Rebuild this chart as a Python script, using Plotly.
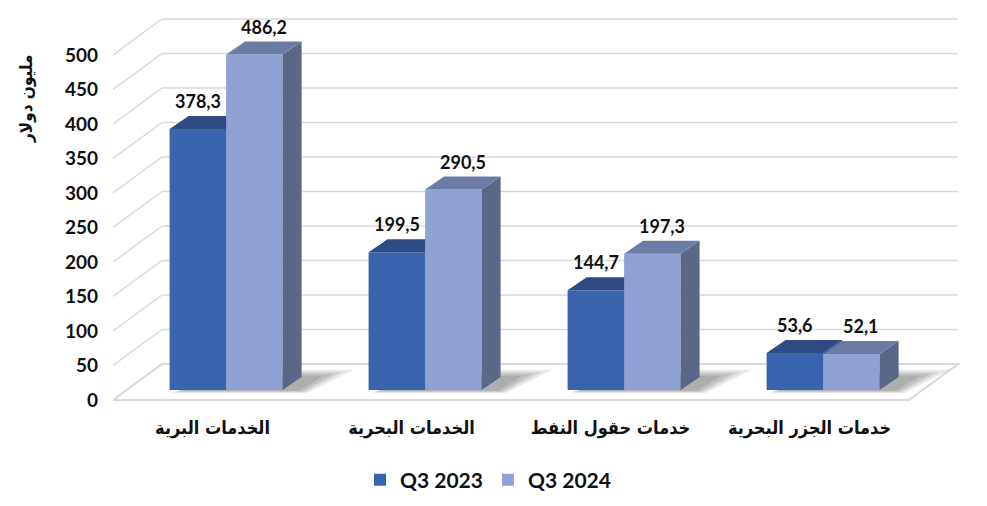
import plotly.graph_objects as go

# ---------------- data ----------------
categories = ["الخدمات البرية", "الخدمات البحرية", "خدمات حقول النفط", "خدمات الجزر البحرية"]
series_names = ["Q3 2023", "Q3 2024"]
q3_2023 = [378.3, 199.5, 144.7, 53.6]
q3_2024 = [486.2, 290.5, 197.3, 52.1]
y_ticks = [0, 50, 100, 150, 200, 250, 300, 350, 400, 450, 500]
y_title = "مليون دولار"


def fmt(v):
    return f"{v:.1f}".replace(".", ",")


# ---------------- geometry / style ----------------
W_FIG, H_FIG = 987, 506
M_L, M_R, M_T, M_B = 113, 20, 10, 96
PX_X = 199.0    # pixels per category step
X0_PX = 212.5   # pixel of first category centre (front plane of the wall)
PX_Y = 0.69     # pixels per value unit
Y0_PX = 400.0   # pixel of value 0 (front plane of the wall)

x_range = [(M_L - X0_PX) / PX_X, (W_FIG - M_R - X0_PX) / PX_X]
y_range = [-(H_FIG - M_B - Y0_PX) / PX_Y, (Y0_PX - M_T) / PX_Y]

DXW, DYW = 49 / PX_X, 36 / PX_Y      # full wall depth
DXF, DYF = 13.6 / PX_X, 10 / PX_Y    # bar front plane offset
DXB, DYB = 19 / PX_X, 13 / PX_Y      # bar depth
BW = 56.5 / PX_X                     # bar width
X_LEFT = -0.5
X_RIGHT = len(categories) - 0.5

DARK_FRONT, DARK_TOP, DARK_SIDE = "#3A64AD", "#2E4B86", "#2B4680"
LIGHT_FRONT, LIGHT_TOP, LIGHT_SIDE = "#8FA2D4", "#6B7CA4", "#5A6786"
GRID = "#D9D9D9"
FONT_NUM = "Lato, 'Open Sans', sans-serif"
FONT_AR = "'DejaVu Sans Condensed', 'DejaVu Sans', sans-serif"

shapes = []
# floor
shapes.append(dict(
    type="path", xref="x", yref="y", layer="below",
    path=(f"M {X_LEFT},0 L {X_RIGHT},0 L {X_RIGHT + DXW},{DYW} "
          f"L {X_LEFT + DXW},{DYW} Z"),
    fillcolor="white", line=dict(color=GRID, width=2)))
# wall gridlines
for v in y_ticks:
    shapes.append(dict(type="line", xref="x", yref="y", layer="below",
                       x0=X_LEFT, y0=v, x1=X_LEFT + DXW, y1=v + DYW,
                       line=dict(color=GRID, width=1.5)))
    if v > 0:
        shapes.append(dict(type="line", xref="x", yref="y", layer="below",
                           x0=X_LEFT + DXW, y0=v + DYW, x1=X_RIGHT + DXW, y1=v + DYW,
                           line=dict(color=GRID, width=1.5)))

# soft shadows on the floor
d_f = DYF / DYW
d_b = (DYF + DYB) / DYW


def fp(x, d):
    return x + d * DXW, d * DYW


for i in range(len(categories)):
    xl = i + DXF - BW
    xr = i + DXF + BW + DXB
    for k, (ex_l, ex_r, ex_f, ex_b) in enumerate([(0.03, 0.15, 0.09, 0.20),
                                                  (0.02, 0.11, 0.06, 0.14),
                                                  (0.01, 0.08, 0.04, 0.09),
                                                  (0.0, 0.04, 0.02, 0.04)]):
        p1 = fp(xl - ex_l, d_f - ex_f)
        p2 = fp(xr - DXB + ex_r * 0.5, d_f - ex_f)
        p3 = fp(xr - DXB + ex_r, d_b + ex_b)
        p4 = fp(xl - ex_l + 0.05, d_b + ex_b)
        shapes.append(dict(
            type="path", xref="x", yref="y", layer="below",
            path=f"M {p1[0]},{p1[1]} L {p2[0]},{p2[1]} L {p3[0]},{p3[1]} L {p4[0]},{p4[1]} Z",
            fillcolor="rgba(0,0,0,0.09)", line=dict(width=0)))

fig = go.Figure()


def faces(values, x_left):
    top_x, top_y, side_x, side_y = [], [], [], []
    for i, v in enumerate(values):
        xl = i + x_left
        xr = xl + BW
        yt = v + DYF
        top_x += [xl, xr, xr + DXB, xl + DXB, xl, None]
        top_y += [yt, yt, yt + DYB, yt + DYB, yt, None]
        side_x += [xr, xr, xr + DXB, xr + DXB, xr, None]
        side_y += [DYF, yt, yt + DYB, DYF + DYB, DYF, None]
    return top_x, top_y, side_x, side_y


specs = [
    (q3_2023, series_names[0], DXF - BW, DARK_FRONT, DARK_TOP, DARK_SIDE, "x", "y"),
    (q3_2024, series_names[1], DXF, LIGHT_FRONT, LIGHT_TOP, LIGHT_SIDE, "x2", "y2"),
]
for vals, name, off, cf, ct, cs, xa, ya in specs:
    fig.add_trace(go.Bar(
        x=list(range(len(categories))), y=vals, base=DYF, offset=off, width=BW,
        marker=dict(color=cf, line=dict(width=0)), name=name,
        xaxis=xa, yaxis=ya, hovertemplate="%{y}<extra>" + name + "</extra>"))
    tx, ty, sx, sy = faces(vals, off)
    fig.add_trace(go.Scatter(x=sx, y=sy, fill="toself", mode="none", fillcolor=cs,
                             showlegend=False, hoverinfo="skip", xaxis=xa, yaxis=ya))
    fig.add_trace(go.Scatter(x=tx, y=ty, fill="toself", mode="none", fillcolor=ct,
                             showlegend=False, hoverinfo="skip", xaxis=xa, yaxis=ya))

annotations = []
for i, v in enumerate(q3_2023):
    annotations.append(dict(x=i + DXF - BW / 2, y=v + DYF + DYB, xref="x", yref="y",
                            text=fmt(v), showarrow=False, yanchor="middle", yshift=15,
                            font=dict(family=FONT_NUM, size=18, color="#111", weight="bold")))
for i, v in enumerate(q3_2024):
    annotations.append(dict(x=i + DXF + BW / 2 + DXB / 2, y=v + DYF + DYB, xref="x", yref="y",
                            text=fmt(v), showarrow=False, yanchor="middle", yshift=15,
                            font=dict(family=FONT_NUM, size=18, color="#111", weight="bold")))

plot_w = W_FIG - M_L - M_R
plot_h = H_FIG - M_T - M_B
annotations.append(dict(x=(26 - M_L) / plot_w, y=(H_FIG - M_B - 99) / plot_h,
                        xref="paper", yref="paper", text=y_title, textangle=-90,
                        showarrow=False, xanchor="center", yanchor="middle",
                        font=dict(family=FONT_AR, size=17, color="#111", weight="bold")))

axis_common = dict(showgrid=False, zeroline=False, showline=False, ticks="")
fig.update_layout(
    width=W_FIG, height=H_FIG,
    margin=dict(l=M_L, r=M_R, t=M_T, b=M_B),
    paper_bgcolor="white", plot_bgcolor="rgba(0,0,0,0)",
    barmode="overlay",
    shapes=shapes, annotations=annotations,
    xaxis=dict(range=x_range, tickmode="array", tickvals=list(range(len(categories))),
               ticktext=categories, ticklabelstandoff=5,
               tickfont=dict(family=FONT_AR, size=18, color="#111", weight="bold"),
               **axis_common),
    yaxis=dict(range=y_range, tickmode="array", tickvals=y_ticks,
               ticktext=[str(t) for t in y_ticks], ticklabelstandoff=14,
               tickfont=dict(family=FONT_NUM, size=19, color="#111", weight="bold"),
               **axis_common),
    xaxis2=dict(range=x_range, overlaying="x", visible=False, **axis_common),
    yaxis2=dict(range=y_range, overlaying="y", visible=False, **axis_common),
    legend=dict(orientation="h", xref="container", yref="container",
                x=(488 / W_FIG), xanchor="center", y=1 - 480 / H_FIG, yanchor="middle",
                font=dict(family=FONT_NUM, size=21, color="#111", weight="bold"),
                itemwidth=30, tracegroupgap=0),
    showlegend=True,
)

fig.write_html("out.html", config={"displayModeBar": False},
               post_script="document.body.style.margin='0px';document.body.style.overflow='hidden';")
